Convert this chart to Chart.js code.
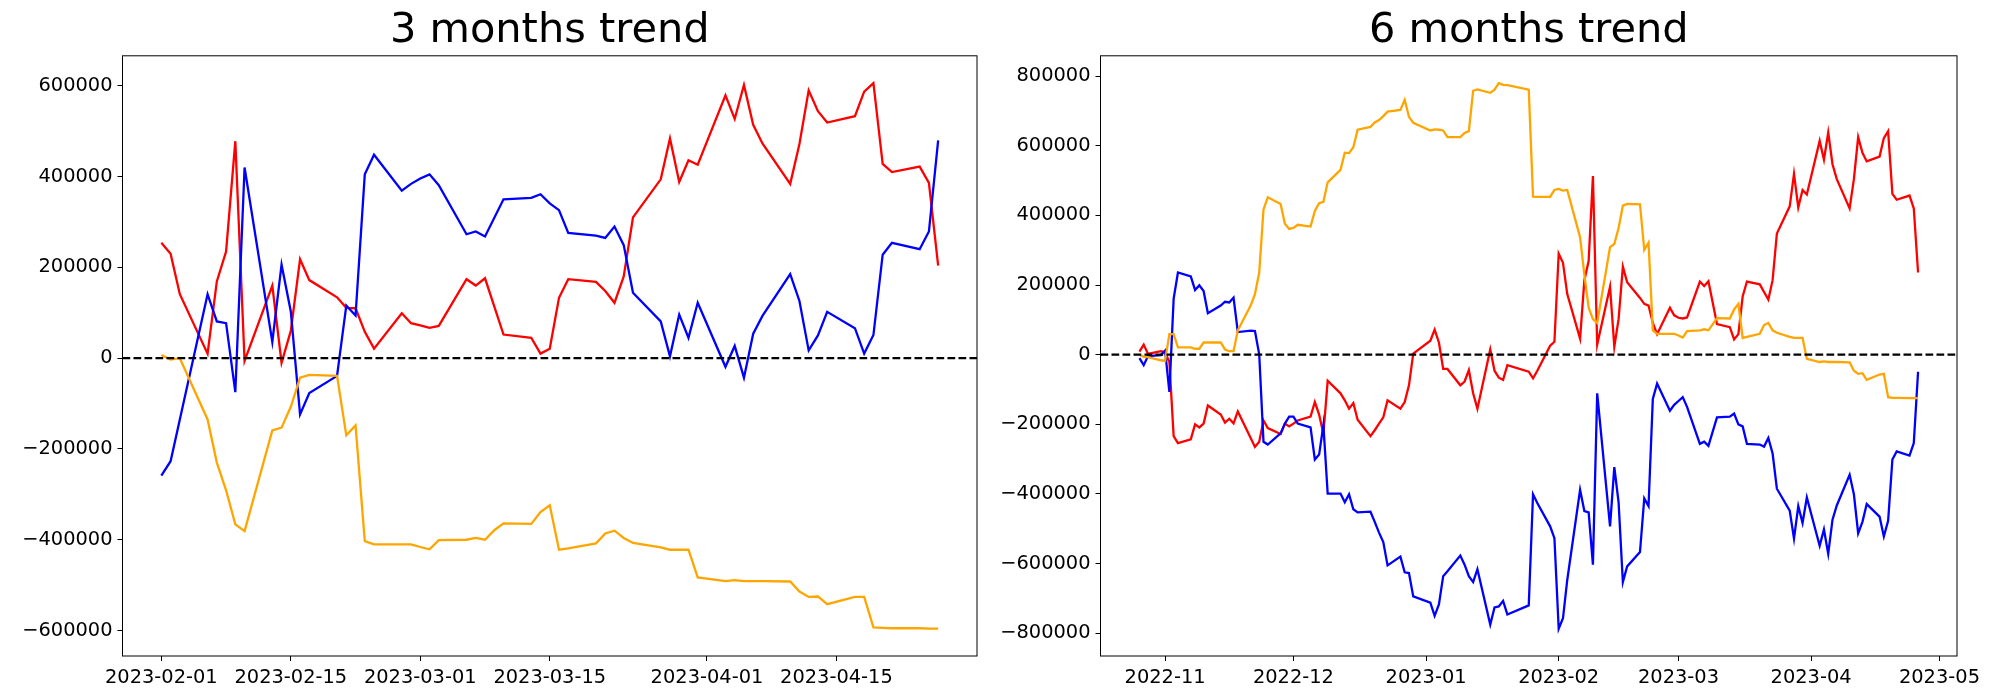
<!DOCTYPE html>
<html>
<head>
<meta charset="utf-8">
<script src="https://cdn.jsdelivr.net/npm/chart.js@4.4.0/dist/chart.umd.min.js"></script>
<style>
  html, body { margin: 0; padding: 0; background: #fff; }
  .box { position: absolute; top: 0; width: 1000px; height: 700px; }
</style>
</head>
<body>
<div class="box" style="left:0"><canvas id="chart3m"></canvas></div>
<div class="box" style="left:1000px"><canvas id="chart6m"></canvas></div>
<script>
// ---------- 3 months ----------
const dates3m = [
    '2023-02-01','2023-02-02','2023-02-03','2023-02-06','2023-02-07','2023-02-08','2023-02-09','2023-02-10',
    '2023-02-13','2023-02-14','2023-02-15','2023-02-16','2023-02-17','2023-02-20','2023-02-21','2023-02-22',
    '2023-02-23','2023-02-24','2023-02-27','2023-02-28',
    '2023-03-01','2023-03-02','2023-03-03','2023-03-06','2023-03-07','2023-03-08','2023-03-09','2023-03-10',
    '2023-03-13','2023-03-14','2023-03-15','2023-03-16','2023-03-17','2023-03-20','2023-03-21','2023-03-22',
    '2023-03-23','2023-03-24','2023-03-27','2023-03-28','2023-03-29','2023-03-30','2023-03-31',
    '2023-04-03','2023-04-04','2023-04-05','2023-04-06','2023-04-07','2023-04-10','2023-04-11','2023-04-12',
    '2023-04-13','2023-04-14','2023-04-17','2023-04-18','2023-04-19','2023-04-20','2023-04-21','2023-04-24',
    '2023-04-25','2023-04-26'
];
const red3m = [
    254000, 230000, 141000, 10000, 169000, 235000, 478000, -6000, 160000, -10000,
    60000, 218000, 172000, 134000, 111000, 110000, 58000, 21000, 99000, 77000,
    72000, 67000, 71000, 174000, 160000, 176000, null, 52000, 45000, 10000, 21000, 133000,
    174000, 168000, 148000, 122000, 180000, 310000, 394000, 484000, 388000, 436000, 426000,
    579000, 527000, 602000, 514000, 473000, 384000, 472000, 590000, 544000, 519000,
    533000, 587000, 606000, 428000, 410000, 422000, 386000, 204000
];
const blue3m = [
    -259000, -227000, -135000, 141000, 81000, 77000, -75000, 420000, 36000, 206000,
    103000, -124000, -77000, -39000, 116000, 94000, 405000, 448000, 369000, 384000,
    396000, 405000, 381000, 273000, 279000, 268000, null, 350000, 353000, 361000, 341000, 326000,
    276000, 270000, 265000, 290000, 249000, 144000, 81000, 4000, 96000, 45000, 122000,
    -19000, 27000, -43000, 54000, 93000, 185000, 126000, 17000, 50000, 102000,
    66000, 10000, 51000, 228000, 254000, 240000, 279000, 480000
];
const orange3m = [
    7000, -3000, 0, -135000, -230000, -291000, -366000, -381000, -159000, -153000,
    -107000, -43000, -37000, -39000, -170000, -148000, -403000, -410000, -410000, -410000,
    -416000, -421000, -401000, -400000, -396000, -400000, -379000, -364000, -365000, -339000, -324000, -422000,
    -419000, -408000, -386000, -380000, -396000, -407000, -417000, -422000, -422000, -422000, -483000,
    -491000, -489000, -491000, -491000, -491000, -492000, -514000, -526000, -525000, -542000,
    -526000, -526000, -593000, -594000, -595000, -595000, -596000, -596000
];
const xTicks3m = ['2023-02-01', '2023-02-15', '2023-03-01', '2023-03-15', '2023-04-01', '2023-04-15'];
const yTicks3m = [-600000, -400000, -200000, 0, 200000, 400000, 600000];

// ---------- 6 months ----------
const dates6m = [
    '2022-10-26','2022-10-27','2022-10-28','2022-10-31',
    '2022-11-01','2022-11-02','2022-11-03','2022-11-04','2022-11-07','2022-11-08','2022-11-09','2022-11-10',
    '2022-11-11','2022-11-14','2022-11-15','2022-11-16','2022-11-17','2022-11-18','2022-11-21','2022-11-22',
    '2022-11-23','2022-11-24','2022-11-25','2022-11-28','2022-11-29','2022-11-30',
    '2022-12-01','2022-12-02','2022-12-05','2022-12-06','2022-12-07','2022-12-08','2022-12-09','2022-12-12',
    '2022-12-13','2022-12-14','2022-12-15','2022-12-16','2022-12-19','2022-12-20','2022-12-21','2022-12-22',
    '2022-12-23','2022-12-26','2022-12-27','2022-12-28','2022-12-29',
    '2023-01-02','2023-01-03','2023-01-04','2023-01-05','2023-01-06','2023-01-09','2023-01-10','2023-01-11',
    '2023-01-12','2023-01-13','2023-01-16','2023-01-17','2023-01-18','2023-01-19','2023-01-20','2023-01-25',
    '2023-01-26','2023-01-27','2023-01-30','2023-01-31',
    '2023-02-01','2023-02-02','2023-02-03','2023-02-06','2023-02-07','2023-02-08','2023-02-09','2023-02-10',
    '2023-02-13','2023-02-14','2023-02-15','2023-02-16','2023-02-17','2023-02-20','2023-02-21','2023-02-22',
    '2023-02-23','2023-02-24','2023-02-27','2023-02-28',
    '2023-03-01','2023-03-02','2023-03-03','2023-03-06','2023-03-07','2023-03-08','2023-03-10','2023-03-13',
    '2023-03-14','2023-03-15','2023-03-16','2023-03-17','2023-03-20','2023-03-21','2023-03-22','2023-03-23',
    '2023-03-24','2023-03-27','2023-03-28','2023-03-29','2023-03-30','2023-03-31',
    '2023-04-03','2023-04-04','2023-04-05','2023-04-06','2023-04-07','2023-04-10','2023-04-11','2023-04-12',
    '2023-04-13','2023-04-14','2023-04-17','2023-04-18','2023-04-19','2023-04-20','2023-04-21','2023-04-24',
    '2023-04-25','2023-04-26'
];
const red6m = [
    9000, 29000, 2000, 10000,
    7000, -21000, -234000, -254000, -243000, -200000, -209000, -198000, -146000, -172000, -195000,
    -184000, -197000, -163000, -239000, -265000, -250000, -189000, -211000, -228000, -198000, -206000,
    -198000, -189000, -178000, -136000, -172000, -228000, -75000, -111000, -131000, -155000, -139000,
    -187000, -234000, -217000, -198000, -180000, -131000, -155000, -136000, -88000, 3000,
    40000, 72000, 35000, -41000, -41000, -88000, -77000, -44000, -111000, -155000, 15000, -46000,
    -66000, -72000, -30000, -49000, -68000, -46000, 26000, 37000,
    290000, 264000, 174000, 46000, 214000, 269000, 513000, 29000, 195000, 23000, 102000, 253000,
    208000, 163000, 146000, 141000, 91000, 59000, 135000, 113000,
    106000, 104000, 107000, 210000, 197000, 211000, 88000, 79000, 44000, 59000, 167000, 210000,
    202000, 180000, 158000, 214000, 348000, 426000, 519000, 423000, 473000, 460000,
    614000, 560000, 638000, 547000, 504000, 420000, 504000, 625000, 580000, 555000, 569000, 622000,
    642000, 462000, 445000, 457000, 420000, 236000
];
const blue6m = [
    -10000, -30000, -4000, -1000,
    12000, -107000, 161000, 236000, 225000, 186000, 199000, 183000, 119000, 141000, 152000,
    150000, 164000, 65000, 69000, 68000, 1000, -250000, -258000, -226000, -198000, -178000,
    -178000, -198000, -209000, -301000, -287000, -202000, -399000, -399000, -424000, -401000, -444000,
    -453000, -451000, -480000, -511000, -538000, -605000, -580000, -625000, -627000, -694000,
    -712000, -750000, -717000, -636000, -622000, -577000, -603000, -636000, -653000, -616000, -775000, -726000,
    -723000, -707000, -746000, -720000, -401000, -426000, -493000, -527000,
    -787000, -757000, -647000, -388000, -449000, -453000, -603000, -111000, -493000, -323000, -424000, -653000,
    -608000, -567000, -413000, -435000, -127000, -83000, -161000, -144000,
    -133000, -122000, -150000, -256000, -250000, -262000, -180000, -178000, -169000, -200000, -206000, -256000,
    -258000, -264000, -239000, -284000, -385000, -448000, -528000, -435000, -483000, -410000,
    -549000, -502000, -572000, -474000, -433000, -345000, -401000, -513000, -480000, -429000, -465000, -522000,
    -477000, -301000, -278000, -290000, -254000, -49000
];
const orange6m = [
    0, -6000, -7000, -16000,
    -18000, 59000, 59000, 21000, 21000, 17000, 17000, 35000, 35000, 35000, 15000,
    10000, 10000, 70000, 141000, 174000, 236000, 417000, 452000, 433000, 376000, 361000,
    364000, 373000, 368000, 413000, 435000, 439000, 495000, 531000, 580000, 579000, 596000,
    646000, 654000, 667000, 674000, 685000, 698000, 703000, 732000, 683000, 666000,
    644000, 647000, 646000, 644000, 625000, 625000, 637000, 642000, 758000, 762000, 752000, 761000,
    780000, 775000, 774000, 761000, 454000, 453000, 453000, 473000,
    476000, 471000, 473000, 337000, 230000, 135000, 102000, 91000, 309000, 318000, 364000, 428000,
    433000, 432000, 301000, 322000, 70000, 60000, 60000, 60000,
    55000, 49000, 68000, 70000, 73000, 70000, 105000, 104000, 130000, 146000, 48000, 51000,
    60000, 85000, 91000, 70000, 63000, 51000, 48000, 48000, 48000, -12000,
    -21000, -19000, -21000, -21000, -21000, -22000, -46000, -55000, -53000, -72000, -57000, -55000,
    -122000, -124000, -124000, -125000, -125000, -125000
];
const xTicks6m = ['2022-11', '2022-12', '2023-01', '2023-02', '2023-03', '2023-04', '2023-05'];
const yTicks6m = [-800000, -600000, -400000, -200000, 0, 200000, 400000, 600000, 800000];

// ---------- helpers ----------
const FONT = 'DejaVu Sans';

const dayOf = (s) => {
    const p = s.split('-').map(Number);
    return Date.UTC(p[0], p[1] - 1, p[2] || 1) / 86400000;
};

const fmtNum = (v) => (v < 0 ? '\u2212' + Math.abs(v) : String(v));

// dashed zero line + box around the plot
const frameAndZero = {
    id: 'frameAndZero',
    afterDatasetsDraw(chart) {
        const { ctx, chartArea: a } = chart;
        const y0 = chart.scales.y.getPixelForValue(0);
        ctx.save();
        ctx.strokeStyle = '#000';
        ctx.lineWidth = 2.2;
        ctx.setLineDash([7.7, 3.3]);
        ctx.beginPath();
        ctx.moveTo(a.left, y0);
        ctx.lineTo(a.right, y0);
        ctx.stroke();
        ctx.setLineDash([]);
        ctx.lineWidth = 1;
        ctx.strokeRect(a.left, a.top, a.right - a.left, a.bottom - a.top);
        ctx.restore();
    }
};

function makeChart(id, title, dates, red, blue, orange, xTicks, yTicks, axisWidth, rightPad) {
    const xs = dates.map(dayOf);
    const pts = (vals) => vals.map((v, i) => ({ x: xs[i], y: v }));

    const all = red.concat(blue, orange).filter(v => v !== null);
    const yMin = Math.min(...all), yMax = Math.max(...all);
    const yPad = (yMax - yMin) * 0.05;
    const xMin = xs[0], xMax = xs[xs.length - 1];
    const xPad = (xMax - xMin) * 0.05;

    const line = (vals, color, order) => ({
        data: pts(vals),
        borderColor: color,
        backgroundColor: color,
        borderWidth: 2.3,
        pointRadius: 0,
        tension: 0,
        spanGaps: true,
        order: order
    });

    const tickFont = { family: FONT, size: 19.4 };

    return new Chart(document.getElementById(id).getContext('2d'), {
        type: 'line',
        data: {
            datasets: [
                line(red, 'rgb(255, 0, 0)', 3),
                line(blue, 'rgb(0, 0, 255)', 2),
                line(orange, 'rgb(255, 165, 0)', 1)
            ]
        },
        options: {
            responsive: true,
            maintainAspectRatio: false,
            animation: false,
            layout: { padding: { left: 0, right: rightPad, top: 0, bottom: 0 } },
            scales: {
                x: {
                    type: 'linear',
                    min: xMin - xPad,
                    max: xMax + xPad,
                    afterBuildTicks: (s) => { s.ticks = xTicks.map(t => ({ value: dayOf(t) })); },
                    ticks: {
                        callback: (v, i) => xTicks[i],
                        font: tickFont,
                        color: '#000',
                        maxRotation: 0,
                        autoSkip: false,
                        padding: 5
                    },
                    grid: { drawOnChartArea: false, drawTicks: true, tickLength: 5, tickColor: '#000', tickWidth: 1 },
                    border: { display: false },
                    afterFit: (s) => { s.height = 44; }
                },
                y: {
                    type: 'linear',
                    min: yMin - yPad,
                    max: yMax + yPad,
                    afterBuildTicks: (s) => { s.ticks = yTicks.map(v => ({ value: v })); },
                    ticks: {
                        callback: (v) => fmtNum(v),
                        font: tickFont,
                        color: '#000',
                        padding: 5
                    },
                    grid: { drawOnChartArea: false, drawTicks: true, tickLength: 5, tickColor: '#000', tickWidth: 1 },
                    border: { display: false },
                    afterFit: (s) => { s.width = axisWidth; }
                }
            },
            plugins: {
                legend: { display: false },
                tooltip: { enabled: false },
                title: {
                    display: true,
                    text: title,
                    fullSize: false,
                    color: '#000',
                    font: { family: FONT, size: 41.5, weight: 'normal' },
                    padding: { top: 6, bottom: 0 }
                }
            }
        },
        plugins: [frameAndZero]
    });
}

makeChart('chart3m', '3 months trend', dates3m, red3m, blue3m, orange3m, xTicks3m, yTicks3m, 122.5, 23);
makeChart('chart6m', '6 months trend', dates6m, red6m, blue6m, orange6m, xTicks6m, yTicks6m, 100.5, 43);
</script>
</body>
</html>
